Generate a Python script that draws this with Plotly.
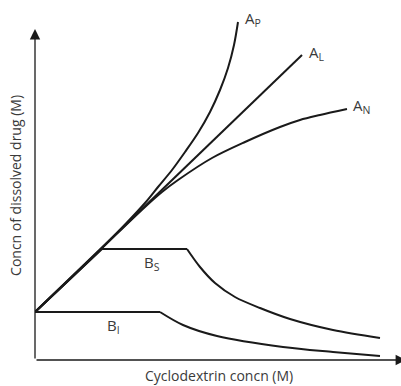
import plotly.graph_objects as go

# Phase-solubility diagram (arbitrary units)
ap_x = [0, 65, 110, 123, 137, 150, 163, 175, 185, 193, 199, 203]
ap_y = [48, 110, 157, 173, 190, 208, 227, 248, 270, 292, 315, 338]

al_x = [0, 267]
al_y = [48, 305]

an_x = [0, 65, 110, 127, 143, 177, 210, 245, 265, 285, 312]
an_y = [48, 110, 153, 168, 180, 202, 218, 233, 240, 245, 251]

bs_rise_x = [0, 67, 152]
bs_rise_y = [48, 111, 111]
bs_fall_x = [152, 165, 180, 200, 225, 255, 298, 345]
bs_fall_y = [111, 93, 77, 63, 52, 41, 30, 22]

bi_flat_x = [0, 125]
bi_flat_y = [48, 48]
bi_fall_x = [125, 148, 182, 248, 298, 345]
bi_fall_y = [48, 35, 24, 13, 8, 4]

labels = [("A", "P", 208, 341), ("A", "L", 272, 307), ("A", "N", 316, 254),
          ("B", "S", 107, 97), ("B", "I", 70, 34)]

x_title = "Cyclodextrin concn (M)"
y_title = "Concn of dissolved drug (M)"

LINE = "#1a1a1a"
FONT = "Open Sans"
TXT = "#3a3a3a"

fig = go.Figure()

def add(x, y, shape="spline"):
    fig.add_trace(go.Scatter(x=x, y=y, mode="lines",
                             line=dict(color=LINE, width=2, shape=shape, smoothing=0.9),
                             hoverinfo="skip", showlegend=False))

add(ap_x, ap_y)
add(al_x, al_y, "linear")
add(an_x, an_y)
add(bs_rise_x, bs_rise_y, "linear")
add(bs_fall_x, bs_fall_y)
add(bi_flat_x, bi_flat_y, "linear")
add(bi_fall_x, bi_fall_y)

ann = []
for main, sub, lx, ly in labels:
    ann.append(dict(x=lx, y=ly, xref="x", yref="y", showarrow=False,
                    text=f"{main}<sub>{sub}</sub>", xanchor="left", yanchor="middle",
                    font=dict(family=FONT, size=15, color=TXT)))

# axis arrows
ann.append(dict(x=0, y=331, ax=0, ay=0, xref="x", yref="y", axref="x", ayref="y",
                text="", showarrow=True, arrowhead=2, arrowsize=1.6, arrowwidth=1.3,
                arrowcolor=LINE))
ann.append(dict(x=371, y=0, ax=0, ay=0, xref="x", yref="y", axref="x", ayref="y",
                text="", showarrow=True, arrowhead=2, arrowsize=1.6, arrowwidth=1.3,
                arrowcolor=LINE))

ann.append(dict(x=0.503, y=-0.044, xref="paper", yref="paper", showarrow=False,
                text=x_title, xanchor="center", yanchor="middle",
                font=dict(family=FONT, size=14, color=TXT)))
ann.append(dict(x=-0.055, y=0.486, xref="paper", yref="paper", showarrow=False,
                text=y_title, textangle=-90, xanchor="center", yanchor="middle",
                font=dict(family=FONT, size=14, color=TXT)))

fig.update_layout(
    width=401, height=386,
    margin=dict(l=35, r=0, t=0, b=26),
    paper_bgcolor="white", plot_bgcolor="white",
    xaxis=dict(range=[0, 366], visible=False, fixedrange=True),
    yaxis=dict(range=[0, 360], visible=False, fixedrange=True),
    annotations=ann,
    showlegend=False,
)

fig.write_html("out.html")
